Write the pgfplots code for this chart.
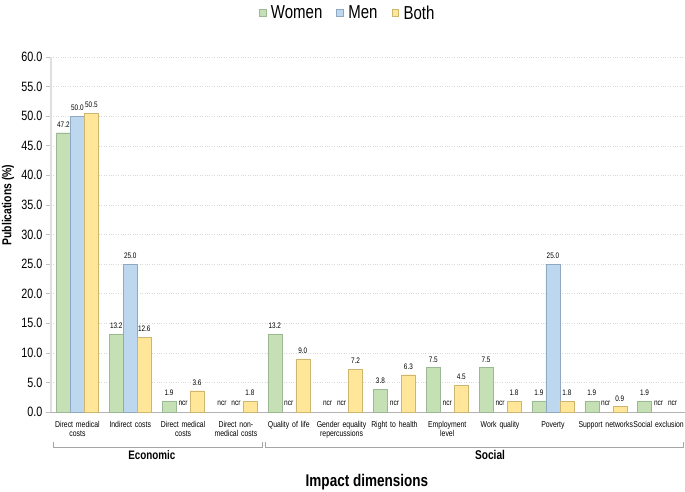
\documentclass[border=0pt]{standalone}
\usepackage{fontspec}
\setmainfont{Liberation Sans}[FakeStretch=0.8]
\usepackage{pgfplots}
\pgfplotsset{compat=1.18}
\definecolor{cW}{HTML}{C5E0B4}
\definecolor{cWe}{HTML}{9DB894}
\definecolor{cM}{HTML}{BDD7EE}
\definecolor{cMe}{HTML}{8FA9C2}
\definecolor{cB}{HTML}{FFE699}
\definecolor{cBe}{HTML}{CDB670}
\newcommand\fs[1]{\fontsize{#1}{#1}\selectfont}
\begin{document}
\begin{tikzpicture}
\useasboundingbox (0,0) rectangle (685pt,491pt);
\begin{axis}[
  at={(51pt,79pt)}, anchor=south west,
  scale only axis, width=634pt, height=355pt,
  xmin=-0.5, xmax=11.5, ymin=0, ymax=60,
  ytick={0,5,...,60},
  /pgf/number format/assume math mode=true,
  yticklabel={\pgfmathprintnumber[fixed,fixed zerofill,precision=1]{\tick}},
  yticklabel style={font=\fs{13.5}},
  xtick={0,...,11},
  xticklabels={{Direct medical\\costs},{Indirect costs},{Direct medical\\costs},{Direct non-\\medical costs},{Quality of life},{Gender equality\\repercussions},{Right to health},{Employment\\level},{Work quality},{Poverty},{Support networks},{Social exclusion}},
  xticklabel style={font=\fs{8.6}, align=center, text width=70pt, yshift=-1pt},
  x tick style={draw=none},
  y tick style={draw=gray!50, line width=0.6pt},
  tick align=outside, major tick length=5pt,
  axis x line*=bottom, axis y line*=left,
  x axis line style={draw=gray!60, line width=0.8pt, -},
  y axis line style={draw=gray!25, line width=1.5pt, -},
  ymajorgrids, grid style={dotted, gray!30, line width=0.5pt},
  clip=false,
  ybar, bar width=14pt,
  nodes near coords={\pgfmathprintnumber[fixed,fixed zerofill,precision=1]{\pgfplotspointmeta}},
  every node near coord/.append style={font=\fs{8}, yshift=2pt},
  legend style={draw=none, fill=none, legend columns=3, at={(0.468,1.124)}, anchor=center, font=\fs{18.75},
    /tikz/every odd column/.append style={column sep=3pt},
    /tikz/every even column/.append style={column sep=12pt}},
  legend image code/.code={\draw[#1] (0pt,-3.3pt) rectangle (6.6pt,3.3pt);},
]
\addplot[fill=cW, draw=cWe, bar shift=-14pt] coordinates {(0,47.2) (1,13.2) (2,1.9) (4,13.2) (6,3.8) (7,7.5) (8,7.5) (9,1.9) (10,1.9) (11,1.9)};
\addlegendentry{Women}
\addplot[fill=cM, draw=cMe, bar shift=0pt] coordinates {(0,50.0) (1,25.0) (9,25.0)};
\addlegendentry{Men}
\addplot[fill=cB, draw=cBe, bar shift=14pt] coordinates {(0,50.5) (1,12.6) (2,3.6) (3,1.8) (4,9.0) (5,7.2) (6,6.3) (7,4.5) (8,1.8) (9,1.8) (10,0.9)};
\addlegendentry{Both}
% ncr labels
\node[font=\fs{8.2}, xshift=-14pt] at (axis cs:3,1.4) {ncr};
\node[font=\fs{8.2}, xshift=-14pt] at (axis cs:5,1.4) {ncr};
\pgfplotsinvokeforeach{2,3,4,5,6,7,8,10,11}{\node[font=\fs{8.2}] at (axis cs:#1,1.4) {ncr};}
\node[font=\fs{8.2}, xshift=14pt] at (axis cs:11,1.4) {ncr};
% brackets
\draw[gray!70, line width=0.6pt] (axis cs:-0.454,-5.1) -- (axis cs:-0.454,-5.92) -- (axis cs:3.497,-5.92) -- (axis cs:3.497,-5.1);
\draw[gray!70, line width=0.6pt] (axis cs:3.554,-5.1) -- (axis cs:3.554,-5.92) -- (axis cs:11.47,-5.92) -- (axis cs:11.47,-5.1);
\node[font=\fs{12.3}\bfseries] at (axis cs:1.41,-7.3) {Economic};
\node[font=\fs{12.7}\bfseries] at (axis cs:7.81,-7.3) {Social};
\node[font=\fs{16.9}\bfseries] at (axis cs:5.48,-11.8) {Impact dimensions};
\node[font=\fs{13}\bfseries, rotate=90] at (axis description cs:-0.068,0.583) {Publications (\%)};
\end{axis}
\end{tikzpicture}
\end{document}
